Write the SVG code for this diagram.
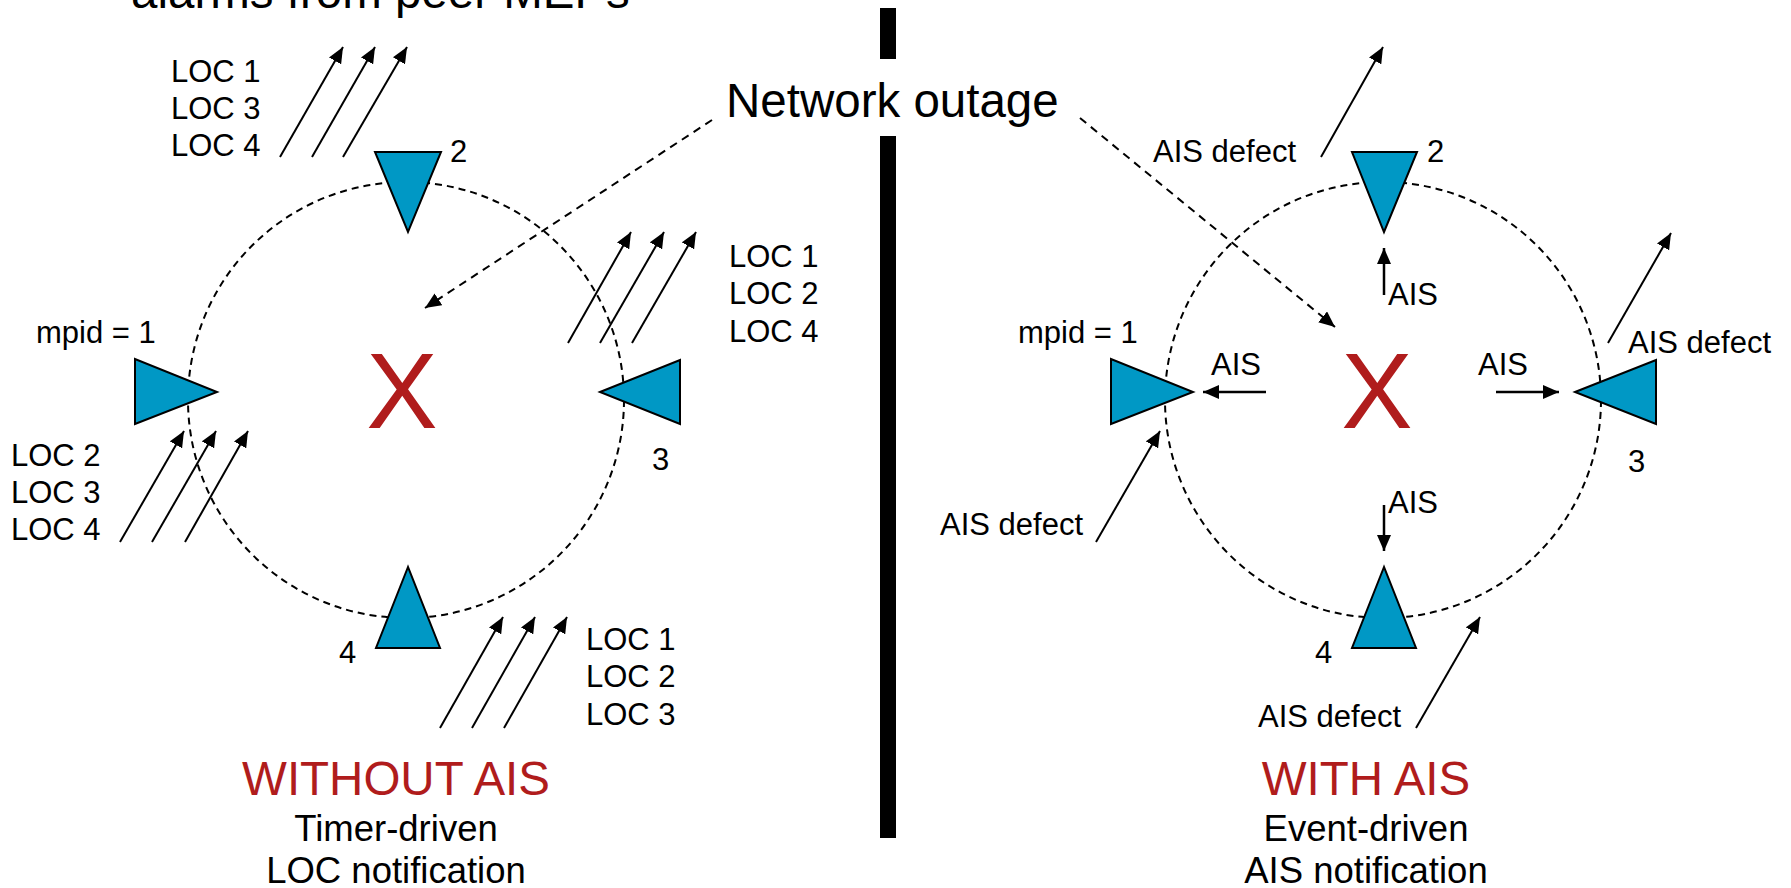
<svg xmlns="http://www.w3.org/2000/svg" width="1791" height="888" viewBox="0 0 1791 888">
  <defs>
    <marker id="head" markerUnits="userSpaceOnUse" markerWidth="17" markerHeight="14" refX="16" refY="7" orient="auto">
      <path d="M0,0 L16,7 L0,14 z" fill="#000"/>
    </marker>
    <style>
      text { font-family: "Liberation Sans", Arial, sans-serif; fill: #000; }
      .lbl { font-size: 31px; }
      .big { font-size: 47.5px; }
      .title { font-size: 47.5px; fill: #B01C1C; text-anchor: middle; }
      .sub { font-size: 36.5px; text-anchor: middle; }
      .cross { font-size: 107px; fill: #B01C1C; text-anchor: middle; }
      .mep { fill: #0098C5; stroke: #000; stroke-width: 2; stroke-linejoin: miter; }
      .ring { fill: none; stroke: #000; stroke-width: 2; stroke-dasharray: 7 5; }
      .alarm { stroke: #000; stroke-width: 2; fill: none; marker-end: url(#head); }
      .ais { stroke: #000; stroke-width: 2.5; fill: none; marker-end: url(#head); }
      .outage { stroke: #000; stroke-width: 2; fill: none; stroke-dasharray: 8 6; marker-end: url(#head); }
    </style>
  </defs>

  <rect width="1791" height="888" fill="#fff"/>

  <!-- caption cut at the top edge -->
  <text class="big" x="131" y="8">alarms from peer MEPs</text>

  <!-- divider between the two scenarios -->
  <rect x="880" y="8" width="16" height="51" fill="#000"/>
  <rect x="880" y="136" width="16" height="702" fill="#000"/>

  <g id="outage-label">
    <text class="big" x="726" y="117">Network outage</text>
  </g>

  <!-- ===== left: without AIS ===== -->
  <g id="ring-left">
    <circle class="ring" cx="406" cy="400" r="218"/>
  </g>
  <g id="fault-left">
    <text class="cross" x="402" y="428">X</text>
  </g>
  <g id="mep1-left">
    <polygon class="mep" points="135,359 135,424 217,392"/>
    <text class="lbl" x="36" y="343">mpid = 1</text>
  </g>
  <g id="mep2-left">
    <polygon class="mep" points="375,152 441,152 408,232"/>
    <text class="lbl" x="450" y="162">2</text>
  </g>
  <g id="mep3-left">
    <polygon class="mep" points="600,392 680,360 680,424"/>
    <text class="lbl" x="652" y="470">3</text>
  </g>
  <g id="mep4-left">
    <polygon class="mep" points="408,567 376,648 440,648"/>
    <text class="lbl" x="339" y="663">4</text>
  </g>
  <g id="loc-labels">
    <text class="lbl" x="171" y="82">LOC 1</text>
    <text class="lbl" x="171" y="119">LOC 3</text>
    <text class="lbl" x="171" y="156">LOC 4</text>
    <text class="lbl" x="729" y="267">LOC 1</text>
    <text class="lbl" x="729" y="304">LOC 2</text>
    <text class="lbl" x="729" y="342">LOC 4</text>
    <text class="lbl" x="11" y="466">LOC 2</text>
    <text class="lbl" x="11" y="503">LOC 3</text>
    <text class="lbl" x="11" y="540">LOC 4</text>
    <text class="lbl" x="586" y="650">LOC 1</text>
    <text class="lbl" x="586" y="687">LOC 2</text>
    <text class="lbl" x="586" y="725">LOC 3</text>
  </g>
  <g id="caption-left">
    <text class="title" x="396" y="795">WITHOUT AIS</text>
    <text class="sub" x="396" y="841">Timer-driven</text>
    <text class="sub" x="396" y="883">LOC notification</text>
  </g>

  <!-- ===== right: with AIS ===== -->
  <g id="ring-right">
    <circle class="ring" cx="1383" cy="400" r="218"/>
  </g>
  <g id="fault-right">
    <text class="cross" x="1377" y="428">X</text>
  </g>
  <g id="mep1-right">
    <polygon class="mep" points="1111,359 1111,424 1193,392"/>
    <text class="lbl" x="1018" y="343">mpid = 1</text>
  </g>
  <g id="mep2-right">
    <polygon class="mep" points="1352,152 1417,152 1384,232"/>
    <text class="lbl" x="1427" y="162">2</text>
  </g>
  <g id="mep3-right">
    <polygon class="mep" points="1575,392 1656,360 1656,424"/>
    <text class="lbl" x="1628" y="472">3</text>
  </g>
  <g id="mep4-right">
    <polygon class="mep" points="1384,567 1352,648 1416,648"/>
    <text class="lbl" x="1315" y="663">4</text>
  </g>
  <g id="ais-labels">
    <text class="lbl" x="1388" y="305">AIS</text>
    <text class="lbl" x="1211" y="375">AIS</text>
    <text class="lbl" x="1478" y="375">AIS</text>
    <text class="lbl" x="1388" y="513">AIS</text>
    <text class="lbl" x="1153" y="162">AIS defect</text>
    <text class="lbl" x="1628" y="353">AIS defect</text>
    <text class="lbl" x="940" y="535">AIS defect</text>
    <text class="lbl" x="1258" y="727">AIS defect</text>
  </g>
  <g id="caption-right">
    <text class="title" x="1366" y="795">WITH AIS</text>
    <text class="sub" x="1366" y="841">Event-driven</text>
    <text class="sub" x="1366" y="883">AIS notification</text>
  </g>

  <!-- connectors -->
  <g id="connectors">
    <line class="outage" x1="712" y1="120" x2="425" y2="308"/>
    <line class="outage" x1="1080" y1="118" x2="1335" y2="327"/>

    <line class="alarm" x1="280" y1="157" x2="343" y2="47"/>
    <line class="alarm" x1="312" y1="157" x2="375" y2="47"/>
    <line class="alarm" x1="343" y1="157" x2="407" y2="47"/>

    <line class="alarm" x1="568" y1="343" x2="631" y2="232"/>
    <line class="alarm" x1="600" y1="343" x2="664" y2="232"/>
    <line class="alarm" x1="632" y1="343" x2="696" y2="232"/>

    <line class="alarm" x1="120" y1="542" x2="184" y2="431"/>
    <line class="alarm" x1="152" y1="542" x2="216" y2="431"/>
    <line class="alarm" x1="185" y1="542" x2="248" y2="431"/>

    <line class="alarm" x1="440" y1="728" x2="503" y2="617"/>
    <line class="alarm" x1="472" y1="728" x2="535" y2="617"/>
    <line class="alarm" x1="504" y1="728" x2="567" y2="617"/>

    <line class="alarm" x1="1321" y1="157" x2="1383" y2="47"/>
    <line class="alarm" x1="1608" y1="343" x2="1671" y2="233"/>
    <line class="alarm" x1="1096" y1="542" x2="1160" y2="431"/>
    <line class="alarm" x1="1416" y1="728" x2="1480" y2="617"/>

    <line class="ais" x1="1384" y1="295" x2="1384" y2="248"/>
    <line class="ais" x1="1266" y1="392" x2="1203" y2="392"/>
    <line class="ais" x1="1496" y1="392" x2="1559" y2="392"/>
    <line class="ais" x1="1384" y1="505" x2="1384" y2="551"/>
  </g>
</svg>
